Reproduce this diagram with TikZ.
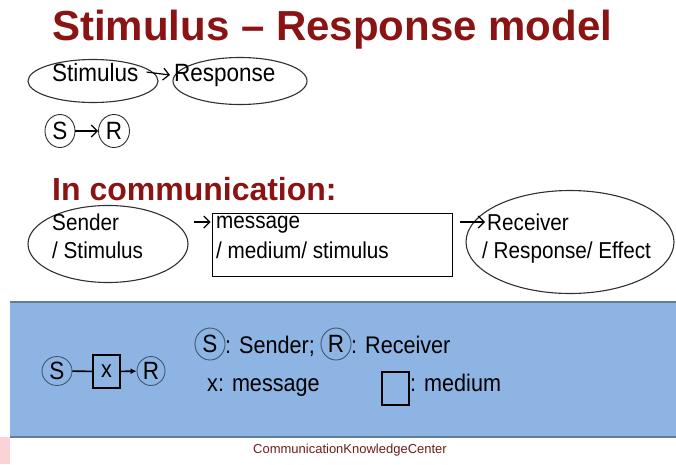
\documentclass[tikz,border=0pt]{standalone}
\usepackage{fontspec}
\setmainfont{Liberation Sans}
\newfontfamily\bodyfont[FakeStretch=0.9]{Liberation Sans}
\usetikzlibrary{shapes.geometric,arrows.meta}
\definecolor{titlered}{HTML}{8A1414}
\definecolor{bandblue}{HTML}{8DB4E2}
\definecolor{bandedge}{HTML}{5E7C9E}
\definecolor{inkgray}{HTML}{303030}
\definecolor{footred}{HTML}{6E1C1C}
\definecolor{pinkpatch}{HTML}{FBD3D7}
\begin{document}
\begin{tikzpicture}[x=1pt,y=-1pt,
  heading/.style={anchor=base west,inner sep=0pt,text=titlered,font=\fontsize{#1}{#1}\selectfont\bfseries},
  body/.style={anchor=base west,inner sep=0pt,text=black,font=\bodyfont\fontsize{#1}{27}\selectfont},
  body/.default=23,
  oval/.style={ellipse,draw=inkgray,line width=1.1pt,inner sep=0pt},
  letter/.style={ellipse,draw=#1,line width=0.9pt,inner sep=0pt,font=\bodyfont\fontsize{25}{27}\selectfont},
  thinarr/.style={-{Straight Barb[length=6pt,width=12pt,line width=1.2pt]},line width=1.2pt},
  medbox/.style={draw=black,line width=1.6pt,inner sep=0pt}
]
\useasboundingbox (0,0) rectangle (676,464);

% titles
\node[heading=42] (title) at (52,40) {Stimulus – Response model};
\node[heading=32] (incomm) at (52,200) {In communication:};

% first model line
\node[oval,minimum width=130pt,minimum height=43pt] (ovstim) at (93,81) {};
\node[oval,minimum width=134pt,minimum height=47pt] (ovresp) at (240,81) {};
\node[body=25] (stim) at (52,81) {Stimulus};
\node[body=25] (resp) at (174,81) {Response};
\draw[thinarr] ([xshift=8pt]stim.east) -- ([xshift=-4pt]resp.west);

% short form
\node[letter=inkgray,minimum width=30pt,minimum height=33pt] (s1) at (60,131) {S};
\node[letter=inkgray,minimum width=31pt,minimum height=33pt] (r1) at (114,131) {R};
\draw[thinarr] (s1) -- (r1);

% communication chain
\node[oval,minimum width=160pt,minimum height=77pt] (ovsend) at (108,244) {};
\node[body] (send1) at (52,230) {Sender};
\node[body] (send2) at (52,258) {/ Stimulus};
\node[draw=black,line width=0.8pt,minimum width=240pt,minimum height=63pt,inner sep=0pt] (msgbox) at (332,244.5) {};
\node[body] (msg1) at (216,228) {message};
\node[body] (msg2) at (216,258) {/ medium/ stimulus};
\node[oval,minimum width=208pt,minimum height=103pt] (ovrecv) at (570,242) {};
\node[body] (recv1) at (487,230) {Receiver};
\node[body] (recv2) at (482,258) {/ Response/ Effect};
\coordinate (a1) at (194,222);
\draw[thinarr] (a1) -- ([xshift=-1pt]a1 -| msgbox.west);
\coordinate (a2) at (460,222);
\draw[thinarr] (a2) -- ([xshift=-2pt]a2 -| recv1.west);

% legend band
\fill[pinkpatch] (0,437) rectangle (10,464);
\fill[bandblue] (10,302) rectangle (676,437);
\draw[bandedge,line width=1.2pt] (10,302) -- (676,302);
\draw[bandedge,line width=1.2pt] (10,437) -- (676,437);

\node[letter=bandedge!70!black,minimum width=30pt,minimum height=29pt] (s2) at (57,371) {S};
\node[medbox,minimum width=27pt,minimum height=33pt,font=\bodyfont\fontsize{24}{27}\selectfont] (xbox) at (106.5,371.5) {x};
\node[letter=bandedge!70!black,minimum width=28pt,minimum height=29pt] (r2) at (151,371) {R};
\draw[line width=1.6pt] (s2) -- (xbox);
\draw[-{Latex[length=6pt,width=6pt]},line width=1.6pt] (xbox) -- (r2);

\node[letter=bandedge!70!black,minimum width=30pt,minimum height=32pt] (s3) at (210,344) {S};
\node[body=24] (lsend) at (225,353) {: Sender;};
\node[letter=bandedge!70!black,minimum width=30pt,minimum height=32pt] (r3) at (336,344) {R};
\node[body=24] (lrecv) at (351,353) {: Receiver};
\node[body=24] (lmsg) at (207,391) {x: message};
\node[medbox,minimum width=27pt,minimum height=33pt] (mbox) at (395.5,388.5) {};
\node[body=24] (lmed) at (410,391) {: medium};

% footer
\node[anchor=base,inner sep=0pt,text=footred,font=\fontsize{13}{15}\selectfont] (foot) at (350,453) {CommunicationKnowledgeCenter};
\end{tikzpicture}
\end{document}
